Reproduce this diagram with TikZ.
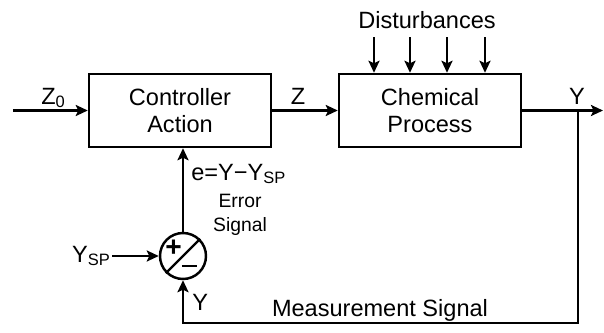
\documentclass[tikz,border=0pt]{standalone}
\usepackage{fontspec}
\setmainfont{Liberation Sans}
\usepackage{tikz}
\usetikzlibrary{
  arrows.meta,
  positioning
}
\tikzset{
  block/.style={draw, line width=1.4pt, minimum width=3.64cm, minimum height=1.46cm,
    align=center, font=\fontsize{13.4}{15.5}\selectfont},
  signal/.style={line width=1.4pt, -{Stealth[length=0.24cm, width=0.22cm, inset=0.05cm]}},
  lbl/.style={font=\fontsize{13.4}{15.5}\selectfont, inner sep=0pt},
  small/.style={font=\fontsize{11}{13.6}\selectfont, inner sep=0pt, align=center}
}

\begin{document}
\begin{tikzpicture}
\useasboundingbox (0,0) rectangle (12.08,6.66);

% the two blocks and the comparator
\node[block] (ctrl) at (3.6,4.45) {Controller\\Action};
\node[block] (proc) at (8.6,4.45) {Chemical\\Process};
\node[draw, circle, line width=1.4pt, minimum size=0.92cm, inner sep=0pt] (sum) at (3.66,1.54) {};
\draw[line width=1.4pt] (sum.225) -- (sum.45);
\node[lbl, font=\fontsize{16}{18}\selectfont\bfseries] (plus) at ([xshift=-0.19cm, yshift=0.15cm]sum.center) {+};
\draw[line width=1.3pt] ([xshift=-0.02cm, yshift=-0.2cm]sum.center) -- ++(0.3,0);

\coordinate (z0) at (0.26,4.45);
\coordinate (out) at (12.06,4.45);
\coordinate (tap) at (11.56,4.45);
\coordinate (bot) at (11.56,0.2);
\coordinate (ysp) at (2.24,1.54);

% signal flow
\draw[signal] (z0) -- (ctrl);
\draw[signal] (ctrl) -- (proc);
\draw[signal] (proc) -- (out);
\draw[signal] (ysp) -- (sum);
\draw[signal] (sum) -- (sum |- ctrl.south);
\draw[signal] (tap) -- (bot) -| (sum);

% disturbances entering the process
\node[lbl, anchor=base] (dist) at (8.54,6.08) {Disturbances};
\foreach \x [count=\i] in {7.48,8.2,8.94,9.7} {
  \coordinate (d\i) at (\x,5.92);
  \draw[signal] (d\i) -- (d\i |- proc.north);
}

% labels
\node[lbl, anchor=base] (z0lbl) at (1.07,4.58) {Z\textsubscript{0}};
\node[lbl, anchor=base] (zlbl) at (5.96,4.58) {Z};
\node[lbl, anchor=base] (ylbl) at (11.54,4.58) {Y};
\node[lbl, anchor=base west] (elbl) at (3.82,3.06) {e=Y−Y\textsubscript{SP}};
\node[small] (errlbl) at (4.8,2.36) {Error\\Signal};
\node[lbl, anchor=base east] (ysplbl) at (2.22,1.42) {Y\textsubscript{SP}};
\node[lbl, anchor=base west] (yfb) at (3.84,0.44) {Y};
\node[lbl, anchor=base] (meas) at (7.6,0.32) {Measurement Signal};
\end{tikzpicture}
\end{document}
